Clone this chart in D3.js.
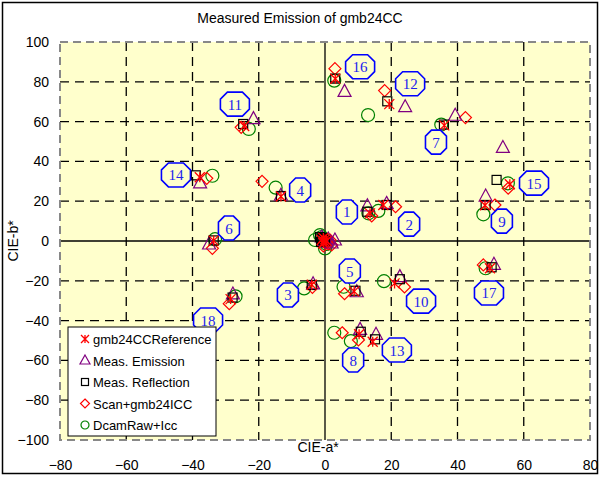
<!DOCTYPE html>
<html>
<head>
<meta charset="utf-8">
<script src="https://cdn.jsdelivr.net/npm/d3@7"></script>
<style>
  body { margin: 0; background: #fff; }
  svg { font-family: "Liberation Sans", Arial, sans-serif; }
</style>
</head>
<body>
<div id="chart"></div>
<script>
    const W = 601, H = 477;

    // patch ids 1..18 carry labels, 19..24 are the neutrals near the origin
    const patchIds = [1,2,3,4,5,6,7,8,9,10,11,12,13,14,15,16,17,18,19,20,21,22,23,24];

    // [a*, b*] per patch, same order as patchIds
    const reference = [[13.6,13.9],[17.6,18.1],[-4,-22],[-13.3,22.4],[8.8,-25.3],[-33.6,0.2],[36,58.1],[10.3,-46.9],[48.3,18],[21,-21.3],[-24.4,57.8],[19.4,68.8],[14.4,-50.6],[-37.8,32],[55.8,28.5],[3.1,81.5],[49.8,-13.7],[-28.5,-29.2],
      [-0.5,1.5],[-1,0.5],[0,-0.5],[0.5,0],[-0.5,-1],[0,0.8]];
    const emission = [[12.8,17.7],[18.6,18.9],[-3.6,-21.5],[-13.3,23],[9.6,-25.5],[-35,-1.5],[39.3,63.2],[10.6,-44.4],[48.5,22.6],[22.6,-17.9],[-21.6,61.5],[24.2,67.5],[15.4,-46.9],[-37.7,29.2],[53.7,47],[5.9,75.2],[51,-11.7],[-27.8,-26.6],
      [3,0.5],[1,1],[0.5,-0.5],[-1,2],[0,0],[2,-1]];
    const reflection = [[12.8,14.7],[18.6,18.1],[-4,-22.1],[-13.3,22.6],[9.2,-25],[-33.6,0.3],[35.9,58.5],[10.8,-45.6],[48.5,18.1],[22.6,-19.2],[-24.7,58.8],[18.8,70.2],[15.1,-49.4],[-39,33],[51.8,30.7],[3.1,81.6],[50.3,-13.2],[-27.9,-28.4],
      [-1.5,2],[-1,1],[-0.5,0.5],[0,0],[-1.2,-0.5],[-0.8,1.5]];
    const scan = [[14.1,12.6],[21.3,17.2],[-3.8,-23.3],[-19,30],[5.9,-26.5],[-34,-3.7],[42.4,62],[5.2,-46.1],[51.3,18.1],[24,-23.1],[-25.3,57.1],[18,75.6],[10.1,-49.7],[-35.7,31.5],[55.3,26.5],[3,86.6],[47.8,-12],[-28.9,-31.5],
      [2,-2],[1,-1.5],[0.5,0],[-0.5,-2.5],[1.5,0.5],[0,-1]];
    const dcam = [[13.1,13.9],[16.1,15.1],[-6.3,-23.8],[-14.9,26.8],[5.6,-23],[-33.2,0.9],[35.1,58.5],[2.8,-46.1],[47.8,13.4],[17.8,-20.2],[-23,56.3],[13,63.3],[7.8,-50.3],[-34,32.8],[55.2,29],[2.8,80.6],[48.5,-13.7],[-27,-27.8],
      [-3,0.5],[-1.5,3],[0,-3.7],[-0.5,1],[-1,2],[0.5,-1.5]];

    // callout label positions for patches 1..18
    const labelNames = ['1','2','3','4','5','6','7','8','9','10','11','12','13','14','15','16','17','18'];
    const labelPos = [[6.6,14.6],[25.4,8.5],[-11.2,-27.1],[-7.5,25.6],[7.5,-15.1],[-29,6.5],[33.5,49.7],[8.5,-59.8],[53.4,10],[29,-30.2],[-27.2,68.8],[25.7,79],[21.7,-54.8],[-45,33.2],[63.1,29.1],[10.6,87.6],[49.5,-26.1],[-35.3,-39.7]];

    const xTicks = [-80,-60,-40,-20,0,20,40,60,80];
    const yTicks = [-100,-80,-60,-40,-20,0,20,40,60,80,100];

    const seriesNames = ['gmb24CCReference','Meas. Emission','Meas. Reflection','Scan+gmb24ICC','DcamRaw+Icc'];
    const seriesData = [reference, emission, reflection, scan, dcam];
    const seriesColor = ['#ff0000','#800080','#000000','#ff0000','#008000'];
    const seriesShape = ['star','triangle','square','diamond','circle'];

    const x = d3.scaleLinear().domain([-80, 80]).range([60, 590]);
    const y = d3.scaleLinear().domain([-100, 100]).range([440, 42]);
    const bg = '#ffffcc';

    const svg = d3.select('#chart').append('svg')
      .attr('width', W).attr('height', H);

    svg.append('rect').attr('x', 2.5).attr('y', 2.5).attr('width', 595).attr('height', 471)
      .attr('fill', '#fff').attr('stroke', '#000').attr('stroke-width', 1.5);

    svg.append('text').attr('x', 300).attr('y', 23).attr('text-anchor', 'middle')
      .attr('font-size', 14).text('Measured Emission of gmb24CC');

    // plot area
    svg.append('rect').attr('x', x(-80)).attr('y', y(100))
      .attr('width', x(80) - x(-80)).attr('height', y(-100) - y(100))
      .attr('fill', bg);

    const grid = svg.append('g');
    grid.selectAll('.vx').data(xTicks.filter(d => d > -80 && d < 80)).join('line')
      .attr('x1', d => x(d)).attr('x2', d => x(d)).attr('y1', y(100)).attr('y2', y(-100))
      .attr('stroke', '#000').attr('stroke-width', 1.3)
      .attr('stroke-dasharray', d => d === 0 ? null : '9,6');
    grid.selectAll('.hy').data(yTicks.filter(d => d > -100 && d < 100)).join('line')
      .attr('y1', d => y(d)).attr('y2', d => y(d)).attr('x1', x(-80)).attr('x2', x(80))
      .attr('stroke', '#000').attr('stroke-width', 1.3)
      .attr('stroke-dasharray', d => d === 0 ? null : '9,6');

    svg.append('rect').attr('x', x(-80)).attr('y', y(100))
      .attr('width', x(80) - x(-80)).attr('height', y(-100) - y(100))
      .attr('fill', 'none').attr('stroke', '#888').attr('stroke-width', 2)
      .attr('stroke-dasharray', '8,5');

    // axes (labels only)
    const xAxis = svg.append('g').attr('transform', `translate(0,${y(-100)})`)
      .call(d3.axisBottom(x).tickValues(xTicks).tickSize(0).tickPadding(20));
    const yAxis = svg.append('g').attr('transform', `translate(${x(-80)},0)`)
      .call(d3.axisLeft(y).tickValues(yTicks).tickSize(0).tickPadding(11));
    [xAxis, yAxis].forEach(a => {
      a.select('.domain').remove();
      a.selectAll('text').attr('font-size', 14).attr('font-family', '"Liberation Sans", Arial, sans-serif').attr('fill', '#000');
    });

    svg.append('text').attr('x', 318).attr('y', 452).attr('text-anchor', 'middle')
      .attr('font-size', 14).text('CIE-a*');
    svg.append('text').attr('transform', `translate(18,${y(0)}) rotate(-90)`)
      .attr('text-anchor', 'middle').attr('font-size', 14).text('CIE-b*');

    // marker drawing
    function drawMarker(g, shape, color, s) {
      if (shape === 'star') {
        g.append('path').attr('d', `M${-s},${-s}L${s},${s}M${-s},${s}L${s},${-s}M0,${-s}L0,${s}`)
          .attr('stroke', color).attr('stroke-width', 1.3).attr('fill', 'none');
      } else if (shape === 'triangle') {
        g.append('path').attr('d', `M0,${-s - 1}L${s + 0.5},${s - 1}L${-s - 0.5},${s - 1}Z`)
          .attr('stroke', color).attr('stroke-width', 1.2).attr('fill', 'none');
      } else if (shape === 'square') {
        g.append('rect').attr('x', -s + 0.5).attr('y', -s + 0.5).attr('width', 2 * s - 1).attr('height', 2 * s - 1)
          .attr('stroke', color).attr('stroke-width', 1.2).attr('fill', 'none');
      } else if (shape === 'diamond') {
        g.append('path').attr('d', `M0,${-s}L${s},0L0,${s}L${-s},0Z`)
          .attr('stroke', color).attr('stroke-width', 1.2).attr('fill', 'none');
      } else {
        g.append('circle').attr('r', s).attr('stroke', color).attr('stroke-width', 1.2).attr('fill', 'none');
      }
    }
    const plotSize = [5, 6, 5, 6, 6.5];
    const legendSize = [4, 4.5, 4, 4.5, 4];

    // draw back-to-front: dcam, scan, emission, reflection, reference
    [4, 3, 1, 2, 0].forEach(si => {
      const g = svg.append('g');
      g.selectAll('g').data(seriesData[si]).join('g')
        .attr('transform', d => `translate(${x(d[0])},${y(d[1])})`)
        .each(function () { drawMarker(d3.select(this), seriesShape[si], seriesColor[si], plotSize[si]); });
    });

    // octagon callouts
    function octagon(w, h, c) {
      const hw = w / 2, hh = h / 2;
      return `M${-hw + c},${-hh}L${hw - c},${-hh}L${hw},${-hh + c}L${hw},${hh - c}L${hw - c},${hh}L${-hw + c},${hh}L${-hw},${hh - c}L${-hw},${-hh + c}Z`;
    }
    const labels = svg.append('g').selectAll('g').data(labelNames).join('g')
      .attr('transform', (d, i) => `translate(${x(labelPos[i][0])},${y(labelPos[i][1])})`);
    labels.append('path')
      .attr('d', d => d.length > 1 ? octagon(29, 24, 7) : octagon(21, 24, 6))
      .attr('fill', bg).attr('stroke', '#0000ff').attr('stroke-width', 1.6);
    labels.append('text').attr('text-anchor', 'middle').attr('dy', 5.5)
      .attr('font-family', '"Liberation Serif", "Times New Roman", serif').attr('font-size', 15)
      .attr('fill', '#2222ee').text(d => d);

    // legend
    const lg = svg.append('g').attr('transform', 'translate(68,327)');
    lg.append('rect').attr('width', 148).attr('height', 109)
      .attr('fill', '#fff').attr('stroke', '#000').attr('stroke-width', 1);
    const rows = lg.selectAll('.row').data(seriesNames).join('g')
      .attr('transform', (d, i) => `translate(17,${12 + i * 21.5})`);
    rows.each(function (d, i) { drawMarker(d3.select(this), seriesShape[i], seriesColor[i], legendSize[i]); });
    rows.append('text').attr('x', 8).attr('dy', 5).attr('font-size', 13).text(d => d);
</script>
</body>
</html>
